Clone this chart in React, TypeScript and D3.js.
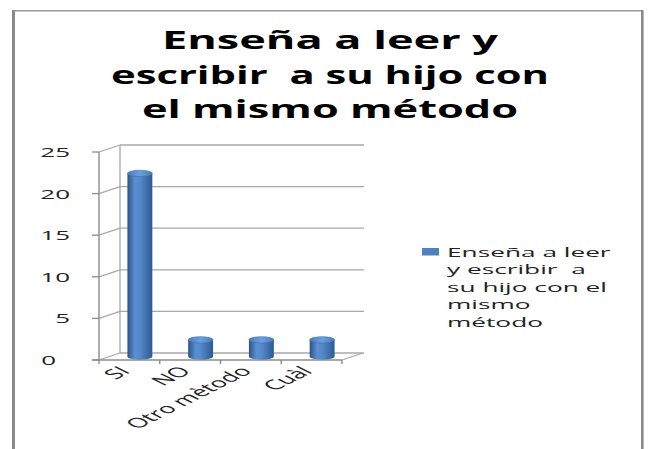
import React from "react";
import * as d3 from "d3";

const categories = ["SI", "NO", "Otro mètodo", "Cuàl"];
const values = [22, 2, 2, 2];
const yTicks = [0, 5, 10, 15, 20, 25];
const titleLines = ["Enseña a leer y", "escribir  a su hijo con", "el mismo método"];
const titleWidths = [336, 438, 376];
const legendLines = ["Enseña a leer", "y escribir  a", "su hijo con el", "mismo", "método"];

const W = 650;
const H = 449;
const FONT = "'Open Sans', 'DejaVu Sans', sans-serif";

function SText(props: any) {
  const { x, y, sx, rot, children, ...rest } = props;
  const t = `translate(${x},${y}) scale(${sx},1)` + (rot ? ` rotate(${rot})` : "");
  return (
    <text transform={t} style={{ whiteSpace: "pre" }} fontFamily={FONT} {...rest}>
      {children}
    </text>
  );
}

export default function App() {
  const y = d3.scaleLinear().domain([0, 25]).range([360, 152]);
  const x = d3.scaleBand<string>().domain(categories).range([99, 342]);
  const ddx = 21;
  const ddy = -7;
  const xLeft = 99;
  const xRight = 342;
  const barW = x.step() * 0.41;
  const rx = barW / 2;
  const ry = 3.2;
  const grid = "#a8a8a8";
  const axis = "#8c8c8c";

  return (
    <svg width={W} height={H} style={{ position: "absolute", left: 0, top: 0, background: "#fff" }}>
      <defs>
        <linearGradient id="cyl" x1="0" x2="1" y1="0" y2="0">
          <stop offset="0%" stopColor="#2b5486" />
          <stop offset="30%" stopColor="#5a8fd2" />
          <stop offset="50%" stopColor="#5689cb" />
          <stop offset="100%" stopColor="#2c5a92" />
        </linearGradient>
        <linearGradient id="cyltop" x1="0" x2="1" y1="0" y2="0">
          <stop offset="0%" stopColor="#4a7cbc" />
          <stop offset="50%" stopColor="#6d9ee0" />
          <stop offset="100%" stopColor="#4a7cbc" />
        </linearGradient>
      </defs>
      {/* frame */}
      <rect x={12} y={10} width={631} height={1.5} fill="#9a9a9a" />
      <rect x={12} y={10} width={3} height={H - 10} fill="#8a8a8a" />
      <rect x={641} y={10} width={2.6} height={H - 10} fill="#8a8a8a" />

      {/* title */}
      {titleLines.map((t, i) => (
        <text
          key={i}
          x={330}
          y={49 + i * 34.5}
          textAnchor="middle"
          textLength={titleWidths[i]}
          lengthAdjust="spacingAndGlyphs"
          style={{ whiteSpace: "pre" }}
          fontFamily={FONT}
          fontSize={25}
          fontWeight={700}
          fill="#000"
        >
          {t}
        </text>
      ))}

      {/* gridlines: back wall + left wall diagonals */}
      {yTicks.map((v) => (
        <g key={v}>
          <line x1={xLeft} y1={y(v)} x2={xLeft + ddx} y2={y(v) + ddy} stroke={grid} strokeWidth={1.3} />
          <line x1={xLeft + ddx} y1={y(v) + ddy} x2={xRight + ddx + 1} y2={y(v) + ddy} stroke={grid} strokeWidth={1.3} />
          <line x1={xLeft - 7} y1={y(v)} x2={xLeft} y2={y(v)} stroke={axis} strokeWidth={1.3} />
        </g>
      ))}
      <line x1={xLeft + ddx} y1={y(0) + ddy} x2={xLeft + ddx} y2={y(25) + ddy} stroke={grid} strokeWidth={1.3} />
      {/* y axis */}
      <line x1={xLeft} y1={y(0)} x2={xLeft} y2={y(25)} stroke={axis} strokeWidth={1.4} />
      {/* floor front */}
      <line x1={xLeft - 7} y1={y(0)} x2={xRight} y2={y(0)} stroke={axis} strokeWidth={1.4} />
      <line x1={xRight} y1={y(0)} x2={xRight + ddx} y2={y(0) + ddy} stroke={grid} strokeWidth={1.3} />
      {[...categories.map((c) => x(c) as number), xRight].map((t, i) => (
        <line key={i} x1={t} y1={y(0)} x2={t} y2={y(0) + 4} stroke={axis} strokeWidth={1.4} />
      ))}

      {/* y tick labels */}
      {yTicks.map((v) => (
        <SText key={v} x={v === 0 ? 56 : 70} y={y(v)} sx={2.0} textAnchor="end" dominantBaseline="central" fontSize={13} fill="#222">
          {String(v)}
        </SText>
      ))}

      {/* bars */}
      {categories.map((c, i) => {
        const cx = (x(c) as number) + x.bandwidth() / 2 + ddx / 2;
        const yb = y(0) + ddy / 2;
        const yt = y(values[i]) + ddy / 2;
        return (
          <g key={c}>
            <path
              d={`M${cx - rx},${yt} L${cx - rx},${yb} A${rx},${ry} 0 0 0 ${cx + rx},${yb} L${cx + rx},${yt} Z`}
              fill="url(#cyl)"
            />
            <ellipse cx={cx} cy={yt} rx={rx} ry={ry} fill="url(#cyltop)" stroke="#3d6ea8" strokeWidth={0.6} />
          </g>
        );
      })}

      {/* x labels */}
      {categories.map((c) => (
        <SText key={c} x={(x(c) as number) + x.bandwidth() / 2 + 2} y={372} sx={2.0} rot={-45} textAnchor="end" fontSize={13.5} fill="#222">
          {c}
        </SText>
      ))}

      {/* legend */}
      <rect x={422} y={248} width={17} height={7.5} fill="#4f81bd" />
      {legendLines.map((t, i) => (
        <SText key={i} x={447} y={256.5 + i * 17.5} sx={2.1} fontSize={12.5} fill="#222">
          {t}
        </SText>
      ))}
    </svg>
  );
}
